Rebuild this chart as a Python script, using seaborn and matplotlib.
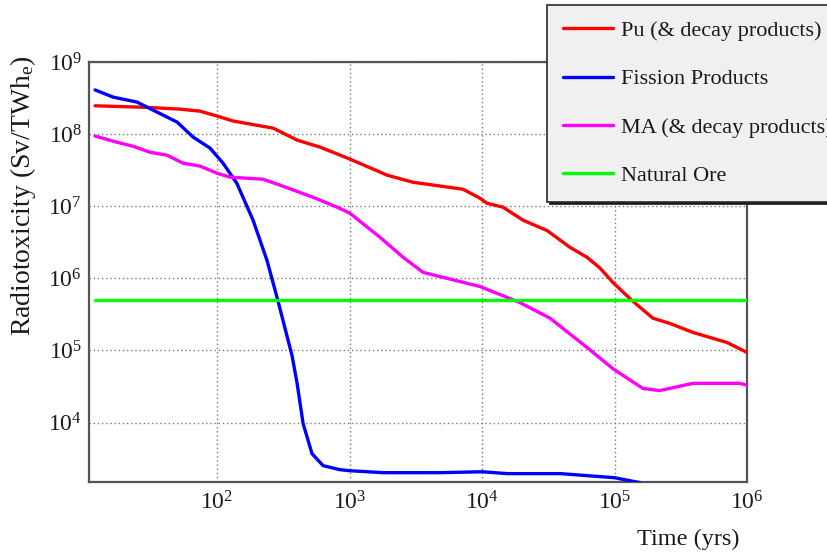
import numpy as np
import pandas as pd
import matplotlib
matplotlib.use("Agg")
import matplotlib.pyplot as plt
import matplotlib.ticker as mticker
import seaborn as sns

# ---- data ----
series_names = ["Pu (& decay products)", "Fission Products", "MA (& decay products)", "Natural Ore"]
series_colors = ["#ff0000", "#0000ff", "#ff00ff", "#00ff00"]

pu_time = [12, 29.5, 52.6, 74.5, 100, 132, 265, 402, 599, 1008, 1919, 3013, 7190, 9660,
           1.09e4, 1.44e4, 2.04e4, 3.1e4, 4.6e4, 6.2e4, 7.8e4, 9.7e4, 1.36e5, 1.95e5,
           2.62e5, 3.9e5, 7.06e5, 1e6]
pu_tox = [2.47e8, 2.35e8, 2.22e8, 2.08e8, 1.78e8, 1.52e8, 1.21e8, 8.26e7, 6.6e7, 4.5e7,
          2.7e7, 2.15e7, 1.72e7, 1.29e7, 1.1e7, 9.7e6, 6.4e6, 4.6e6, 2.7e6, 1.96e6,
          1.38e6, 8.8e5, 4.9e5, 2.8e5, 2.37e5, 1.78e5, 1.29e5, 9.4e4]

fp_time = [12, 16.4, 24.9, 35.2, 49.9, 65.9, 88.5, 111, 141, 187, 238, 288, 368, 402, 446,
           521, 631, 848, 1008, 1790, 4820, 1e4, 1.55e4, 3.9e4, 1e5, 1.56e5]
fp_tox = [4.1e8, 3.26e8, 2.78e8, 2.02e8, 1.47e8, 9.1e7, 6.4e7, 3.95e7, 2.08e7, 6.4e6,
          1.78e6, 4.9e5, 8.5e4, 3.5e4, 9.7e3, 3.7e3, 2.53e3, 2.22e3, 2.15e3, 2.02e3,
          2.02e3, 2.08e3, 1.96e3, 1.96e3, 1.72e3, 1.47e3]

ma_time = [12, 17.6, 23.2, 31.2, 42, 55.4, 74.5, 100, 125, 222, 299, 531, 805, 1008, 1700,
           2535, 3590, 5450, 9660, 1.94e4, 3.26e4, 6.2e4, 9.7e4, 1.64e5, 2.2e5, 3.9e5,
           8.85e5, 1e6]
ma_tox = [9.4e7, 7.7e7, 6.8e7, 5.6e7, 5.1e7, 3.95e7, 3.6e7, 2.87e7, 2.53e7, 2.37e7, 1.96e7,
          1.33e7, 9.7e6, 8.0e6, 3.7e6, 1.96e6, 1.21e6, 1.0e6, 7.7e5, 4.6e5, 2.8e5, 1.1e5,
          5.6e4, 2.97e4, 2.78e4, 3.5e4, 3.5e4, 3.3e4]

ore_time = [12, 1e6]
ore_tox = [5e5, 5e5]

x_major_ticks = [1e2, 1e3, 1e4, 1e5, 1e6]
y_major_ticks = [1e4, 1e5, 1e6, 1e7, 1e8, 1e9]
x_limits = (10.8, 1e6)
y_limits = (1.5e3, 1e9)

# ---- styling ----
sns.set_theme(style="white")
plt.rcParams["font.family"] = ["Liberation Serif", "DejaVu Serif"]
plt.rcParams["mathtext.fontset"] = "custom"
plt.rcParams["mathtext.rm"] = "Liberation Serif"
plt.rcParams["mathtext.it"] = "Liberation Serif:italic"
plt.rcParams["mathtext.bf"] = "Liberation Serif:bold"
text_color = "#1a1a1a"
frame_color = "#555555"

frames = []
for name, t, v in zip(series_names, [pu_time, fp_time, ma_time, ore_time],
                      [pu_tox, fp_tox, ma_tox, ore_tox]):
    frames.append(pd.DataFrame({"Time": t, "Radiotoxicity": v, "Series": name}))
df = pd.concat(frames, ignore_index=True)

fig = plt.figure(figsize=(8.28, 5.54), dpi=100)
ax = fig.add_axes([89 / 828, 72 / 554, 658 / 828, 420 / 554])
ax.set_xscale("log")
ax.set_yscale("log")

sns.lineplot(data=df, x="Time", y="Radiotoxicity", hue="Series", hue_order=series_names,
             palette=dict(zip(series_names, series_colors)), estimator=None, sort=False,
             linewidth=2.4, ax=ax, legend=False, zorder=3)

ax.set_xlim(*x_limits)
ax.set_ylim(*y_limits)

ax.xaxis.set_major_locator(mticker.FixedLocator(x_major_ticks))
ax.yaxis.set_major_locator(mticker.FixedLocator(y_major_ticks))
ax.xaxis.set_major_formatter(mticker.LogFormatterSciNotation())
ax.yaxis.set_major_formatter(mticker.LogFormatterSciNotation())
ax.xaxis.set_minor_locator(mticker.LogLocator(base=10, subs=np.arange(2, 10), numticks=100))
ax.yaxis.set_minor_locator(mticker.LogLocator(base=10, subs=np.arange(2, 10), numticks=100))
ax.xaxis.set_minor_formatter(mticker.NullFormatter())
ax.yaxis.set_minor_formatter(mticker.NullFormatter())

ax.grid(True, which="major", color="#7a7a7a", linestyle=(0, (1, 2)), linewidth=1.0)
ax.set_axisbelow(True)

for s in ax.spines.values():
    s.set_color(frame_color)
    s.set_linewidth(1.6)

ax.tick_params(axis="x", which="major", direction="in", length=8, width=1.3,
               color=frame_color, labelsize=17, pad=7, labelcolor=text_color)
ax.tick_params(axis="x", which="minor", direction="in", length=4.5, width=1.1,
               color=frame_color)
ax.tick_params(axis="y", which="major", direction="in", length=13, width=1.3,
               color=frame_color, labelsize=17, pad=5, labelcolor=text_color)
ax.tick_params(axis="y", which="minor", direction="in", length=7, width=1.1,
               color=frame_color)

ax.set_xlabel("Time (yrs)", fontsize=17.5, color=text_color, loc="right")
ax.xaxis.set_label_coords((740 - 89) / 658, (482 - 529) / 420)
ax.set_ylabel(r"Radiotoxicity (Sv/TWh$_\mathregular{e}$)", fontsize=20, color=text_color)
ax.yaxis.set_label_coords((38 - 89) / 658, (482 - 196) / 420)

leg = ax.legend(handles=list(ax.get_lines()), labels=series_names, loc="upper left",
                bbox_to_anchor=(547 / 828, 1 - 5 / 554), bbox_transform=fig.transFigure,
                borderaxespad=0, fontsize=16, frameon=True, fancybox=False,
                facecolor="#f0f0f0", edgecolor="#2a2a2a", framealpha=1,
                handlelength=2.25, handletextpad=0.4, borderpad=0.7, labelspacing=1.25,
                shadow={"facecolor": "#1a1a1a", "edgecolor": "#1a1a1a", "alpha": 1})
leg.get_frame().set_linewidth(1.2)
for t in leg.get_texts():
    t.set_color(text_color)
leg.set_zorder(10)

fig.savefig("out.png", dpi=100)
